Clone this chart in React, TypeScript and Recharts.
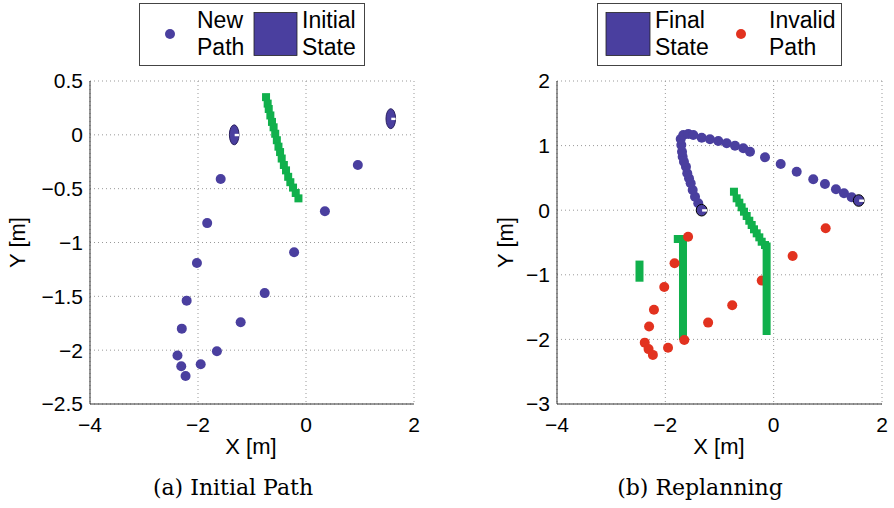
import React from 'react';
import { ScatterChart, Scatter, XAxis, YAxis, CartesianGrid } from 'recharts';

const BLUE = '#4a3f9f';
const GREEN = '#10b04c';
const RED = '#e2321f';
const SANS = '"Liberation Sans", Arial, Helvetica, sans-serif';
const SERIF = '"DejaVu Serif", serif';

const xTicks = [-4, -2, 0, 2];
const yTicksA = [-2.5, -2, -1.5, -1, -0.5, 0, 0.5];
const yTicksB = [-3, -2, -1, 0, 1, 2];

// candidate path (blue in (a), red "invalid" in (b))
const newPath = [
  { x: -1.58, y: -0.41 },
  { x: -1.83, y: -0.82 },
  { x: -2.02, y: -1.19 },
  { x: -2.21, y: -1.54 },
  { x: -2.3, y: -1.8 },
  { x: -2.38, y: -2.05 },
  { x: -2.31, y: -2.15 },
  { x: -2.23, y: -2.24 },
  { x: -1.95, y: -2.13 },
  { x: -1.65, y: -2.01 },
  { x: -1.21, y: -1.74 },
  { x: -0.765, y: -1.47 },
  { x: -0.22, y: -1.09 },
  { x: 0.35, y: -0.71 },
  { x: 0.96, y: -0.28 },
];

// robot states (initial in (a), final in (b))
const robotStates = [
  { x: -1.33, y: 0.0 },
  { x: 1.57, y: 0.15 },
];

// obstacle squares (a)
const obstacleA = [
  { x: -0.74, y: 0.35 }, { x: -0.71, y: 0.29 }, { x: -0.69, y: 0.24 },
  { x: -0.66, y: 0.18 }, { x: -0.63, y: 0.12 }, { x: -0.6, y: 0.07 },
  { x: -0.57, y: 0.01 }, { x: -0.54, y: -0.05 }, { x: -0.51, y: -0.11 },
  { x: -0.48, y: -0.16 }, { x: -0.45, y: -0.22 }, { x: -0.41, y: -0.28 },
  { x: -0.37, y: -0.33 }, { x: -0.33, y: -0.39 }, { x: -0.29, y: -0.44 },
  { x: -0.24, y: -0.49 }, { x: -0.19, y: -0.54 }, { x: -0.14, y: -0.59 },
];

// obstacle squares (b)
const obstacleB = [
  { x: -0.733, y: 0.286 }, { x: -0.683, y: 0.184 }, { x: -0.634, y: 0.116 },
  { x: -0.591, y: 0.045 }, { x: -0.548, y: -0.023 }, { x: -0.498, y: -0.09 },
  { x: -0.45, y: -0.163 }, { x: -0.406, y: -0.229 }, { x: -0.363, y: -0.296 },
  { x: -0.313, y: -0.358 }, { x: -0.265, y: -0.42 }, { x: -0.221, y: -0.488 },
  { x: -0.16, y: -0.539 },
];
const barRight = [{ x: -0.13, y: -0.5 }, { x: -0.13, y: -1.93 }];
const barTall = [{ x: -1.674, y: -0.384 }, { x: -1.674, y: -2.01 }];
const barTallCap = [{ x: -1.77, y: -0.446 }];
const barShort = [{ x: -2.477, y: -0.78 }, { x: -2.477, y: -1.107 }];

// replanned path (b)
const replanPath = [
  { x: -1.33, y: 0.0 }, { x: -1.392, y: 0.107 }, { x: -1.452, y: 0.209 },
  { x: -1.495, y: 0.313 }, { x: -1.532, y: 0.416 }, { x: -1.563, y: 0.494 },
  { x: -1.595, y: 0.571 }, { x: -1.619, y: 0.673 }, { x: -1.656, y: 0.751 },
  { x: -1.68, y: 0.828 }, { x: -1.692, y: 0.906 }, { x: -1.705, y: 1.009 },
  { x: -1.716, y: 1.102 }, { x: -1.668, y: 1.164 }, { x: -1.576, y: 1.18 },
  { x: -1.484, y: 1.164 }, { x: -1.329, y: 1.122 }, { x: -1.176, y: 1.098 },
  { x: -1.022, y: 1.071 }, { x: -0.867, y: 1.036 }, { x: -0.714, y: 0.998 },
  { x: -0.561, y: 0.958 }, { x: -0.437, y: 0.906 }, { x: -0.16, y: 0.819 },
  { x: 0.13, y: 0.715 }, { x: 0.425, y: 0.596 }, { x: 0.731, y: 0.478 },
  { x: 0.947, y: 0.406 }, { x: 1.15, y: 0.324 }, { x: 1.298, y: 0.262 },
  { x: 1.44, y: 0.2 }, { x: 1.575, y: 0.147 },
];

const fmt = (v: number) => (v < 0 ? '\u2212' + Math.abs(v) : String(v));

const dotShape = (color: string, r: number) => (p: any) => (
  <circle cx={p.cx} cy={p.cy} r={r} fill={color} />
);
const squareShape = (color: string, s: number) => (p: any) => (
  <rect x={p.cx - s / 2} y={p.cy - s / 2} width={s} height={s} fill={color} />
);
const emptyShape = () => <g />;
const robotShape = (rx: number, ry: number, stroke: string) => (p: any) => (
  <g>
    <ellipse cx={p.cx} cy={p.cy} rx={rx} ry={ry} fill={BLUE} stroke={stroke} strokeWidth={1} />
    <rect x={p.cx + 0.5} y={p.cy - 1} width={rx - 0.5} height={2.4} fill="#fff" />
  </g>
);

const tickStyle = { fill: '#000', fontSize: 21, fontFamily: SANS };
const axisLine = { stroke: '#333', strokeWidth: 1 };

export default function App() {
  const common = (yTicks: number[], yDomain: [number, number]) => [
    <CartesianGrid key="g" strokeDasharray="1 3" stroke="#999" />,
    <XAxis
      key="x"
      type="number"
      dataKey="x"
      domain={[-4, 2]}
      ticks={xTicks}
      allowDataOverflow
      tickFormatter={fmt}
      tickLine={false}
      tickSize={0}
      tickMargin={13}
      axisLine={axisLine}
      tick={tickStyle}
      height={30}
      interval={0}
    />,
    <YAxis
      key="y"
      type="number"
      dataKey="y"
      domain={yDomain}
      ticks={yTicks}
      allowDataOverflow
      tickFormatter={fmt}
      tickLine={false}
      tickSize={0}
      tickMargin={7}
      axisLine={axisLine}
      tick={tickStyle}
      width={60}
      interval={0}
    />,
  ];

  return (
    <div style={{ position: 'absolute', left: 0, top: 0, width: 894, height: 508, background: '#fff' }}>
      <div style={{ position: 'absolute', left: 0, top: 0 }}>
        <ScatterChart width={447} height={508} margin={{ top: 81, right: 33, bottom: 74, left: 30 }}>
          {common(yTicksA, [-2.5, 0.5])}
          <Scatter data={obstacleA} shape={squareShape(GREEN, 8)} isAnimationActive={false} />
          <Scatter data={newPath} shape={dotShape(BLUE, 5)} isAnimationActive={false} />
          <Scatter data={robotStates} shape={robotShape(4.8, 10, '#2a2060')} isAnimationActive={false} />
        </ScatterChart>
      </div>
      <div style={{ position: 'absolute', left: 447, top: 0 }}>
        <ScatterChart width={447} height={508} margin={{ top: 81, right: 12, bottom: 74, left: 50 }}>
          {common(yTicksB, [-3, 2])}
          <Scatter data={barShort} shape={emptyShape} line={{ stroke: GREEN, strokeWidth: 8, strokeLinecap: 'butt' }} isAnimationActive={false} />
          <Scatter data={barTall} shape={emptyShape} line={{ stroke: GREEN, strokeWidth: 8, strokeLinecap: 'butt' }} isAnimationActive={false} />
          <Scatter data={barTallCap} shape={squareShape(GREEN, 8)} isAnimationActive={false} />
          <Scatter data={newPath} shape={dotShape(RED, 5)} isAnimationActive={false} />
          <Scatter data={barRight} shape={emptyShape} line={{ stroke: GREEN, strokeWidth: 8, strokeLinecap: 'butt' }} isAnimationActive={false} />
          <Scatter data={obstacleB} shape={squareShape(GREEN, 8)} isAnimationActive={false} />
          <Scatter data={replanPath} shape={dotShape(BLUE, 5)} isAnimationActive={false} />
          <Scatter data={robotStates} shape={robotShape(5.4, 5.8, '#000')} isAnimationActive={false} />
        </ScatterChart>
      </div>
      <svg
        width={894}
        height={508}
        style={{ position: 'absolute', left: 0, top: 0, pointerEvents: 'none' }}
      >
        {/* legend (a) */}
        <rect x={139.5} y={3.5} width={225} height={62} fill="#fff" stroke="#444" strokeWidth={1} />
        <circle cx={170} cy={34} r={5} fill={BLUE} />
        <text x={197} y={28} fontFamily={SANS} fontSize={23} fill="#000">New</text>
        <text x={197} y={55} fontFamily={SANS} fontSize={23} fill="#000">Path</text>
        <rect x={254} y={12.5} width={43} height={43} fill={BLUE} stroke="#222" strokeWidth={0.8} />
        <text x={302} y={28} fontFamily={SANS} fontSize={23} fill="#000">Initial</text>
        <text x={302} y={55} fontFamily={SANS} fontSize={23} fill="#000">State</text>

        {/* legend (b) */}
        <rect x={597.5} y={3.5} width={244} height={62} fill="#fff" stroke="#444" strokeWidth={1} />
        <rect x={606} y={12.5} width={44} height={43} fill={BLUE} stroke="#222" strokeWidth={0.8} />
        <text x={655} y={28} fontFamily={SANS} fontSize={23} fill="#000">Final</text>
        <text x={655} y={55} fontFamily={SANS} fontSize={23} fill="#000">State</text>
        <circle cx={741} cy={34} r={5} fill={RED} />
        <text x={769} y={28} fontFamily={SANS} fontSize={23} fill="#000">Invalid</text>
        <text x={769} y={55} fontFamily={SANS} fontSize={23} fill="#000">Path</text>

        {/* axis labels */}
        <text x={251} y={454} textAnchor="middle" fontFamily={SANS} fontSize={22} fill="#000">X [m]</text>
        <text x={719} y={454} textAnchor="middle" fontFamily={SANS} fontSize={22} fill="#000">X [m]</text>
        <text transform="translate(25,242.5) rotate(-90)" textAnchor="middle" fontFamily={SANS} fontSize={22} fill="#000">Y [m]</text>
        <text transform="translate(513,242.5) rotate(-90)" textAnchor="middle" fontFamily={SANS} fontSize={22} fill="#000">Y [m]</text>

        {/* captions */}
        <text x={233} y={495} textAnchor="middle" fontFamily={SERIF} fontSize={22} fill="#000">(a) Initial Path</text>
        <text x={700} y={495} textAnchor="middle" fontFamily={SERIF} fontSize={22} fill="#000">(b) Replanning</text>
      </svg>
    </div>
  );
}
